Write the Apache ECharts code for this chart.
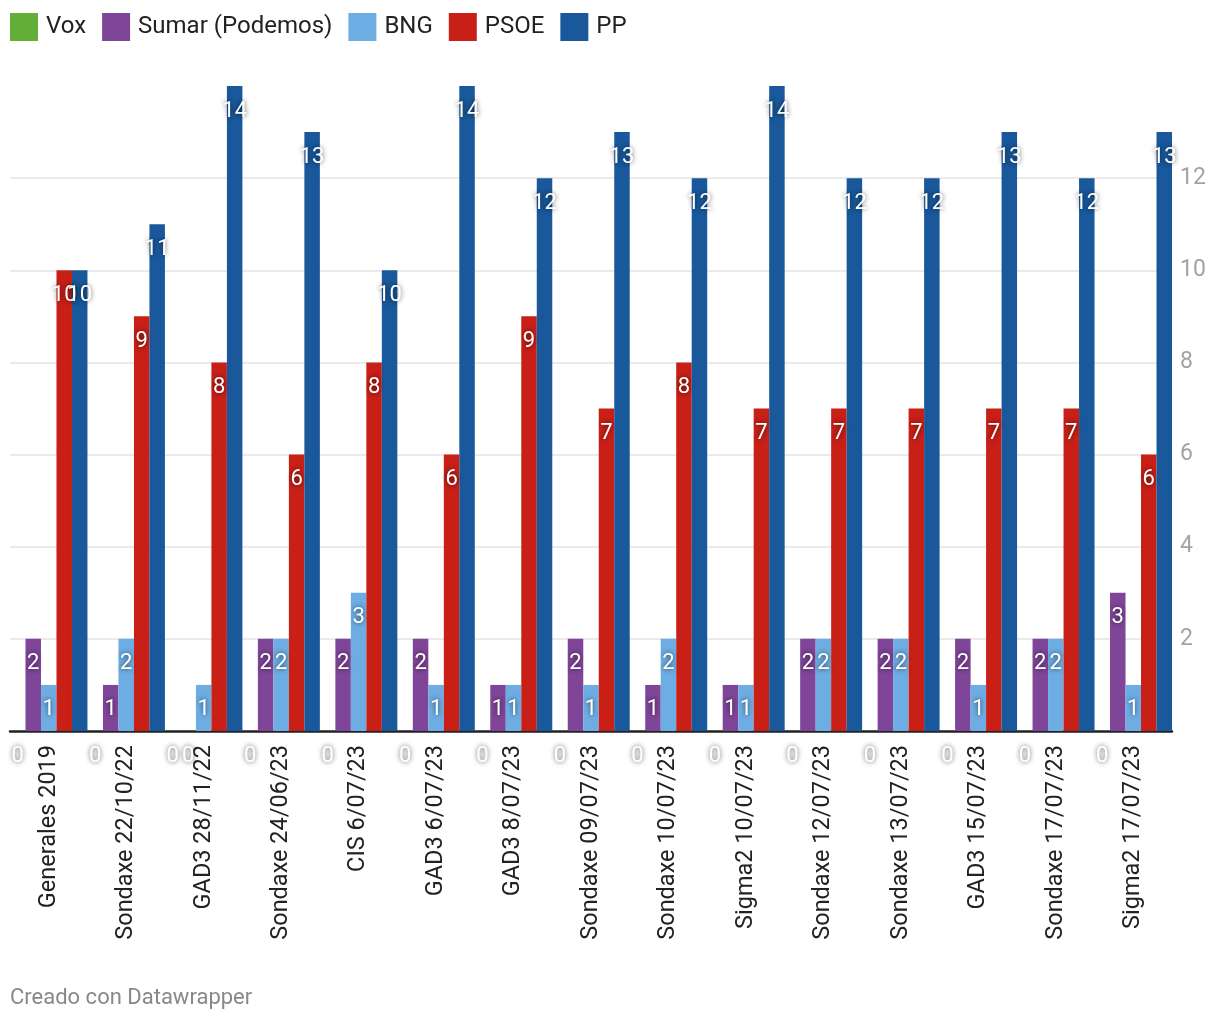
<!DOCTYPE html>
<html>
<head>
<meta charset="utf-8">
<script src="https://cdn.jsdelivr.net/npm/echarts@6/dist/echarts.min.js"></script>
<style>
html,body{margin:0;padding:0;background:#fff;}
#chart{width:1220px;height:1020px;}
</style>
</head>
<body>
<div id="chart"></div>
<script>
const categories = ["Generales 2019","Sondaxe 22/10/22","GAD3 28/11/22","Sondaxe 24/06/23","CIS 6/07/23","GAD3 6/07/23","GAD3 8/07/23","Sondaxe 09/07/23","Sondaxe 10/07/23","Sigma2 10/07/23","Sondaxe 12/07/23","Sondaxe 13/07/23","GAD3 15/07/23","Sondaxe 17/07/23","Sigma2 17/07/23"];
const vox   = [0,0,0,0,0,0,0,0,0,0,0,0,0,0,0];
const sumar = [2,1,0,2,2,2,1,2,1,1,2,2,2,2,3];
const bng   = [1,2,1,2,3,1,1,1,2,1,2,2,1,2,1];
const psoe  = [10,9,8,6,8,6,9,7,8,7,7,7,7,7,6];
const pp    = [10,11,14,13,10,14,12,13,12,14,12,12,13,12,13];
const seriesNames = ["Vox","Sumar (Podemos)","BNG","PSOE","PP"];
const seriesData = [vox, sumar, bng, psoe, pp];
const colors = ["#62ae36","#7f4598","#6dade3","#c81f17","#18589b"];

const FONT = "Roboto, 'Noto Sans', sans-serif";
const chart = echarts.init(document.getElementById('chart'), null, {renderer:'canvas'});
const option = {
  animation: false,
  color: colors,
  textStyle: {fontFamily: FONT},
  legend: {
    left: 10, top: 13, padding: 0,
    icon: 'rect', itemWidth: 28, itemHeight: 28, itemGap: 16,
    textStyle: {fontSize: 24, color: '#222', fontFamily: FONT, padding: [0,0,0,3]},
    data: seriesNames
  },
  grid: {left: 10, right: 48, top: 86, bottom: 289, containLabel: false},
  xAxis: {
    type: 'category',
    data: categories,
    axisTick: {show: false},
    axisLine: {show: true, lineStyle: {color: '#222', width: 2.5}},
    axisLabel: {rotate: 90, margin: 14, fontSize: 23.5, color: '#222', fontFamily: FONT, interval: 0},
    splitLine: {show: false}
  },
  yAxis: {
    type: 'value',
    position: 'right',
    min: 0, max: 14, interval: 2,
    axisLine: {show: false},
    axisTick: {show: false},
    axisLabel: {margin: 8, fontSize: 23, color: '#a3a3a3', fontFamily: FONT, showMinLabel: false, showMaxLabel: false},
    splitLine: {show: true, showMinLine: false, showMaxLine: false, lineStyle: {color: '#e3e3e3', width: 1.5}}
  },
  series: seriesNames.map((n, i) => ({
    name: n,
    type: 'bar',
    data: seriesData[i],
    barGap: '0%',
    barCategoryGap: '0%',
    z: 2,
    label: {
      show: true,
      position: 'insideTop',
      distance: 14,
      color: '#fff',
      fontSize: 22,
      fontFamily: FONT,
      textShadowColor: 'rgba(0,0,0,0.7)',
      textShadowBlur: 5
    }
  })),
  graphic: [{
    type: 'text',
    left: 10, top: 987,
    style: {text: 'Creado con Datawrapper', fontSize: 22, fill: '#888', fontFamily: FONT}
  }]
};
chart.setOption(option);
</script>
</body>
</html>
